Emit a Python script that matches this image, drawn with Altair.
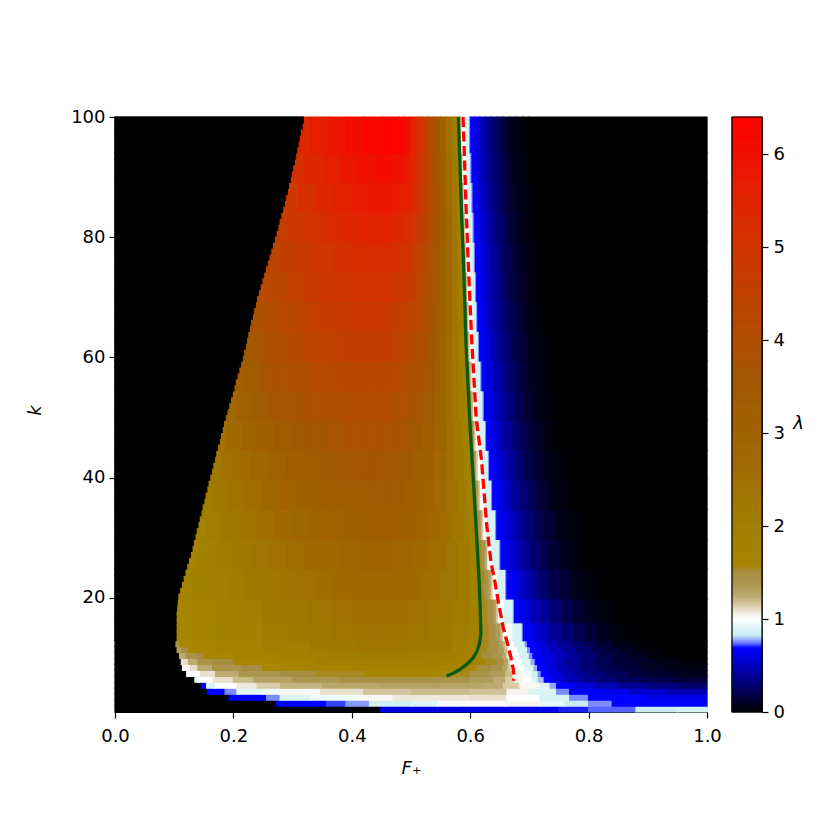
import altair as alt
import pandas as pd

# ---------------- data ----------------
F_TICKS = [0.0, 0.2, 0.4, 0.6, 0.8, 1.0]
K_TICKS = [20, 40, 60, 80, 100]
LAM_TICKS = [0, 1, 2, 3, 4, 5, 6]

# colour map (lambda -> colour)
CMAP_LAM = [0.0, 0.34, 0.68, 0.70, 0.72, 0.76, 0.80, 0.83, 0.92, 1.0, 1.06, 1.15, 1.25,
            1.40, 1.52, 1.58, 2.0, 2.5, 3.0, 3.5, 4.0, 4.5, 5.0, 5.5, 6.0, 6.4]
CMAP_COL = ["#000000", "#000080", "#0000ff", "#0000ff", "#3040ff", "#7a8cff", "#a8c0f8",
            "#c8ecf0", "#e0f8f8", "#ffffff", "#f4f0e8", "#d8cca8", "#bcaa70", "#aa944c",
            "#a48c40", "#a88600", "#a07e00", "#a07000", "#a06200", "#a05800", "#b04e00",
            "#c04200", "#d03400", "#e02400", "#f01000", "#ff0000"]

# row profiles: (first row k, last row k, [[F where segment starts, lambda], ...])
ROW1 = [[0, 0], [0.448, 0.6], [0.6, 0.62], [0.718, 0.68], [0.75, 0.71], [0.80, 0.74], [0.88, 0.84], [0.95, 0.88]]
ROW2 = [[0, 0], [0.273, 0.68], [0.357, 0.72], [0.39, 0.77], [0.43, 0.86], [0.5, 0.9], [0.545, 0.97], [0.58, 1.02],
        [0.66, 1.04], [0.72, 0.92], [0.76, 0.84], [0.8, 0.76], [0.84, 0.68]]
ROW3 = [[0, 0], [0.193, 0.68], [0.256, 0.76], [0.279, 0.9], [0.33, 0.95], [0.408, 1.03], [0.47, 1.08], [0.6, 1.1],
        [0.662, 1.0], [0.718, 0.88], [0.768, 0.76], [0.80, 0.68], [0.9, 0.62]]
ROW4 = [[0, 0], [0.156, 0.68], [0.186, 0.76], [0.206, 0.92], [0.25, 0.97], [0.28, 1.03], [0.347, 1.1], [0.42, 1.17],
        [0.5, 1.2], [0.6, 1.18], [0.662, 1.05], [0.7, 0.9], [0.746, 0.76], [0.768, 0.68], [0.82, 0.62], [0.87, 0.55],
        [0.93, 0.48]]
ROW5 = [[0, 0], [0.146, 0.68], [0.155, 0.9], [0.17, 1.0], [0.206, 1.08], [0.24, 1.15], [0.28, 1.22], [0.35, 1.27],
        [0.45, 1.3], [0.55, 1.28], [0.62, 1.25], [0.656, 1.15], [0.684, 1.03], [0.718, 0.9], [0.735, 0.78],
        [0.746, 0.68], [0.775, 0.58], [0.81, 0.48], [0.85, 0.4], [0.9, 0.33], [0.95, 0.27]]
ROW6 = [[0, 0], [0.135, 0.92], [0.14, 1.0], [0.166, 1.1], [0.2, 1.2], [0.234, 1.3], [0.3, 1.38], [0.38, 1.45],
        [0.46, 1.45], [0.54, 1.42], [0.6, 1.35], [0.64, 1.25], [0.66, 1.15], [0.675, 1.05], [0.69, 1.0],
        [0.705, 0.9], [0.715, 0.8], [0.725, 0.68], [0.742, 0.58], [0.762, 0.48], [0.787, 0.4], [0.815, 0.32],
        [0.85, 0.25], [0.89, 0.2], [0.94, 0.16]]
ROW7 = [[0, 0], [0.121, 0.9], [0.124, 1.0], [0.144, 1.1], [0.17, 1.25], [0.21, 1.4], [0.28, 1.5], [0.34, 1.55],
        [0.42, 1.6], [0.5, 1.6], [0.56, 1.55], [0.6, 1.45], [0.635, 1.35], [0.66, 1.2], [0.672, 1.05], [0.69, 0.95],
        [0.705, 0.85], [0.715, 0.76], [0.72, 0.68], [0.736, 0.58], [0.755, 0.48], [0.777, 0.4], [0.8, 0.32],
        [0.83, 0.24], [0.865, 0.17], [0.905, 0.12], [0.95, 0.08]]
ROW8 = [[0, 0], [0.114, 1.0], [0.127, 1.1], [0.14, 1.25], [0.165, 1.4], [0.215, 1.5], [0.25, 1.6], [0.32, 1.7],
        [0.4, 1.75], [0.48, 1.75], [0.54, 1.7], [0.58, 1.6], [0.61, 1.5], [0.635, 1.4], [0.655, 1.3], [0.664, 1.15],
        [0.67, 1.0], [0.692, 0.9], [0.708, 0.78], [0.714, 0.68], [0.73, 0.58], [0.748, 0.48], [0.768, 0.39],
        [0.79, 0.3], [0.818, 0.22], [0.85, 0.15], [0.89, 0.1], [0.935, 0.06], [0.975, 0.04]]
ROW9 = [[0, 0], [0.112, 1.1], [0.124, 1.25], [0.14, 1.4], [0.165, 1.5], [0.2, 1.6], [0.26, 1.7], [0.34, 1.85],
        [0.42, 1.9], [0.5, 1.85], [0.56, 1.75], [0.6, 1.65], [0.625, 1.55], [0.645, 1.45], [0.658, 1.3],
        [0.665, 1.12], [0.669, 1.0], [0.688, 0.9], [0.703, 0.78], [0.71, 0.68], [0.725, 0.6], [0.742, 0.5],
        [0.76, 0.4], [0.785, 0.3], [0.81, 0.22], [0.84, 0.15], [0.875, 0.1], [0.915, 0.06], [0.955, 0.03]]
ROW10 = [[0, 0], [0.109, 1.25], [0.12, 1.4], [0.135, 1.5], [0.15, 1.6], [0.2, 1.7], [0.28, 1.85], [0.36, 2.0],
         [0.44, 2.05], [0.52, 1.95], [0.58, 1.8], [0.605, 1.6], [0.62, 1.5], [0.64, 1.4], [0.655, 1.28],
         [0.662, 1.12], [0.666, 1.0], [0.684, 0.88], [0.7, 0.76], [0.706, 0.68], [0.723, 0.6], [0.743, 0.5],
         [0.765, 0.4], [0.789, 0.3], [0.816, 0.21], [0.843, 0.14], [0.869, 0.08], [0.896, 0.04], [0.923, 0.015],
         [0.95, 0]]
ROW11 = [[0, 0], [0.105, 1.35], [0.113, 1.5], [0.125, 1.6], [0.17, 1.72], [0.25, 1.9], [0.33, 2.1], [0.41, 2.2],
         [0.49, 2.15], [0.57, 1.9], [0.60, 1.75], [0.614, 1.55], [0.63, 1.45], [0.648, 1.35], [0.658, 1.2],
         [0.664, 1.0], [0.68, 0.88], [0.697, 0.76], [0.702, 0.68], [0.718, 0.6], [0.736, 0.5], [0.757, 0.4],
         [0.78, 0.3], [0.805, 0.21], [0.83, 0.14], [0.855, 0.08], [0.88, 0.04], [0.905, 0.015], [0.93, 0]]
ROW12 = [[0, 0], [0.103, 1.45], [0.11, 1.6], [0.17, 1.75], [0.25, 1.95], [0.33, 2.15], [0.41, 2.3], [0.49, 2.25],
         [0.57, 1.95], [0.60, 1.8], [0.618, 1.55], [0.632, 1.45], [0.648, 1.35], [0.656, 1.2], [0.661, 1.0],
         [0.675, 0.88], [0.693, 0.76], [0.697, 0.68], [0.712, 0.6], [0.729, 0.5], [0.748, 0.4], [0.769, 0.3],
         [0.793, 0.21], [0.816, 0.14], [0.84, 0.08], [0.863, 0.04], [0.887, 0.015], [0.91, 0]]
BAND13 = [[0, 0], [0.103, 1.6], [0.13, 1.7], [0.17, 1.8], [0.21, 1.9], [0.25, 2.05], [0.29, 2.15], [0.33, 2.25],
          [0.37, 2.35], [0.41, 2.4], [0.45, 2.4], [0.49, 2.35], [0.53, 2.2], [0.57, 2.0], [0.60, 1.85], [0.62, 1.55],
          [0.632, 1.45], [0.644, 1.35], [0.652, 1.2], [0.656, 1.05], [0.659, 1.0], [0.672, 0.88], [0.688, 0.76],
          [0.69, 0.68], [0.703, 0.6], [0.719, 0.5], [0.736, 0.4], [0.755, 0.3], [0.776, 0.21], [0.796, 0.14],
          [0.817, 0.08], [0.838, 0.04], [0.859, 0.015], [0.88, 0]]
BAND16 = [[0, 0], [0.103, 1.65], [0.13, 1.75], [0.17, 1.85], [0.21, 2.0], [0.25, 2.15], [0.29, 2.25], [0.33, 2.35],
          [0.37, 2.45], [0.41, 2.55], [0.45, 2.55], [0.49, 2.5], [0.53, 2.35], [0.57, 2.1], [0.60, 1.9], [0.619, 1.55],
          [0.63, 1.45], [0.64, 1.32], [0.645, 1.15], [0.648, 1.0], [0.658, 0.88], [0.673, 0.76], [0.675, 0.68],
          [0.687, 0.6], [0.701, 0.5], [0.717, 0.4], [0.735, 0.3], [0.754, 0.21], [0.773, 0.14], [0.792, 0.08],
          [0.812, 0.04], [0.831, 0.015], [0.85, 0]]
BAND20 = [[0, 0], [0.106, 1.7], [0.13, 1.8], [0.16, 1.95], [0.19, 2.05], [0.22, 2.2], [0.25, 2.3], [0.28, 2.4],
          [0.31, 2.5], [0.34, 2.6], [0.37, 2.7], [0.40, 2.75], [0.43, 2.8], [0.46, 2.8], [0.49, 2.7], [0.52, 2.55],
          [0.55, 2.35], [0.58, 2.1], [0.60, 1.9], [0.617, 1.55], [0.625, 1.42], [0.632, 1.3], [0.636, 1.15],
          [0.639, 1.0], [0.647, 0.88], [0.66, 0.76], [0.662, 0.68], [0.673, 0.6], [0.686, 0.5], [0.70, 0.4],
          [0.716, 0.3], [0.733, 0.21], [0.75, 0.14], [0.768, 0.08], [0.785, 0.04], [0.803, 0.015], [0.82, 0]]
BAND25 = [[0, 0], [0.121, 1.75], [0.14, 1.9], [0.17, 2.05], [0.20, 2.2], [0.23, 2.35], [0.26, 2.5], [0.29, 2.6],
          [0.32, 2.7], [0.35, 2.8], [0.38, 2.9], [0.41, 2.95], [0.44, 2.95], [0.47, 2.9], [0.50, 2.8], [0.53, 2.6],
          [0.56, 2.35], [0.58, 2.1], [0.60, 1.85], [0.614, 1.55], [0.62, 1.4], [0.626, 1.25], [0.629, 1.1],
          [0.631, 1.0], [0.638, 0.88], [0.65, 0.76], [0.652, 0.68], [0.662, 0.6], [0.674, 0.5], [0.688, 0.4],
          [0.702, 0.3], [0.719, 0.21], [0.735, 0.14], [0.751, 0.08], [0.767, 0.04], [0.784, 0.015], [0.80, 0]]
BAND30 = [[0, 0], [0.135, 1.85], [0.155, 2.0], [0.18, 2.2], [0.21, 2.4], [0.24, 2.55], [0.27, 2.7], [0.30, 2.85],
          [0.33, 2.95], [0.36, 3.05], [0.39, 3.15], [0.42, 3.2], [0.45, 3.2], [0.48, 3.1], [0.51, 2.95], [0.53, 2.75],
          [0.55, 2.55], [0.57, 2.3], [0.59, 2.0], [0.60, 1.85], [0.611, 1.5], [0.616, 1.35], [0.62, 1.15],
          [0.623, 1.0], [0.63, 0.88], [0.643, 0.76], [0.645, 0.68], [0.655, 0.6], [0.667, 0.5], [0.68, 0.4],
          [0.694, 0.3], [0.71, 0.21], [0.726, 0.14], [0.742, 0.08], [0.758, 0.04], [0.774, 0.015], [0.79, 0]]
BAND35 = [[0, 0], [0.147, 2.0], [0.165, 2.2], [0.19, 2.4], [0.22, 2.6], [0.25, 2.8], [0.28, 2.95], [0.31, 3.1],
          [0.34, 3.2], [0.37, 3.3], [0.40, 3.4], [0.43, 3.4], [0.46, 3.35], [0.49, 3.2], [0.52, 2.95], [0.54, 2.7],
          [0.56, 2.4], [0.58, 2.1], [0.595, 1.9], [0.608, 1.5], [0.612, 1.35], [0.615, 1.15], [0.618, 1.0],
          [0.625, 0.88], [0.636, 0.76], [0.638, 0.68], [0.648, 0.6], [0.659, 0.5], [0.671, 0.4], [0.685, 0.3],
          [0.70, 0.21], [0.715, 0.14], [0.73, 0.08], [0.745, 0.04], [0.76, 0.015], [0.775, 0]]
BAND40 = [[0, 0], [0.16, 2.2], [0.18, 2.45], [0.20, 2.65], [0.23, 2.85], [0.26, 3.05], [0.29, 3.2], [0.32, 3.35],
          [0.35, 3.45], [0.38, 3.55], [0.41, 3.6], [0.44, 3.6], [0.47, 3.5], [0.50, 3.3], [0.52, 3.1], [0.54, 2.8],
          [0.56, 2.45], [0.575, 2.15], [0.59, 1.9], [0.605, 1.5], [0.609, 1.3], [0.611, 1.15], [0.614, 1.0],
          [0.621, 0.88], [0.631, 0.76], [0.633, 0.68], [0.642, 0.6], [0.653, 0.5], [0.665, 0.4], [0.678, 0.3],
          [0.692, 0.21], [0.707, 0.14], [0.721, 0.08], [0.736, 0.04], [0.75, 0.015], [0.765, 0]]
BAND45 = [[0, 0], [0.173, 2.45], [0.19, 2.7], [0.215, 2.95], [0.24, 3.15], [0.27, 3.35], [0.30, 3.5], [0.33, 3.6],
          [0.36, 3.7], [0.39, 3.8], [0.42, 3.85], [0.45, 3.8], [0.48, 3.65], [0.50, 3.5], [0.52, 3.25], [0.54, 2.95],
          [0.56, 2.5], [0.575, 2.15], [0.588, 1.9], [0.602, 1.5], [0.606, 1.3], [0.608, 1.15], [0.61, 1.0],
          [0.617, 0.88], [0.626, 0.76], [0.628, 0.68], [0.637, 0.6], [0.647, 0.5], [0.658, 0.4], [0.671, 0.3],
          [0.685, 0.21], [0.699, 0.14], [0.713, 0.08], [0.727, 0.04], [0.741, 0.015], [0.755, 0]]
BAND50 = [[0, 0], [0.186, 2.75], [0.205, 3.05], [0.23, 3.3], [0.26, 3.55], [0.29, 3.7], [0.32, 3.85], [0.35, 3.95],
          [0.38, 4.05], [0.41, 4.1], [0.44, 4.05], [0.47, 3.9], [0.50, 3.65], [0.52, 3.4], [0.54, 3.05], [0.56, 2.55],
          [0.57, 2.25], [0.58, 2.0], [0.59, 1.85], [0.6, 1.5], [0.603, 1.2], [0.606, 1.0], [0.613, 0.88],
          [0.622, 0.76], [0.624, 0.68], [0.632, 0.6], [0.642, 0.5], [0.653, 0.4], [0.665, 0.3], [0.678, 0.21],
          [0.692, 0.14], [0.705, 0.08], [0.718, 0.04], [0.732, 0.015], [0.745, 0]]
BAND55 = [[0, 0], [0.201, 3.1], [0.22, 3.4], [0.245, 3.65], [0.27, 3.85], [0.30, 4.0], [0.33, 4.15], [0.36, 4.25],
          [0.39, 4.35], [0.42, 4.35], [0.45, 4.3], [0.48, 4.1], [0.50, 3.9], [0.52, 3.6], [0.54, 3.2], [0.55, 2.95],
          [0.56, 2.6], [0.57, 2.3], [0.58, 2.0], [0.588, 1.85], [0.597, 1.5], [0.6, 1.2], [0.603, 1.0], [0.61, 0.88],
          [0.618, 0.76], [0.62, 0.68], [0.628, 0.6], [0.638, 0.5], [0.649, 0.4], [0.661, 0.3], [0.674, 0.21],
          [0.687, 0.14], [0.70, 0.08], [0.714, 0.04], [0.727, 0.015], [0.74, 0]]
BAND60 = [[0, 0], [0.215, 3.45], [0.235, 3.75], [0.26, 4.0], [0.29, 4.2], [0.32, 4.4], [0.35, 4.5], [0.38, 4.6],
          [0.41, 4.6], [0.44, 4.6], [0.47, 4.45], [0.49, 4.25], [0.51, 3.95], [0.53, 3.55], [0.54, 3.3], [0.55, 3.0],
          [0.56, 2.65], [0.57, 2.3], [0.58, 1.95], [0.588, 1.85], [0.595, 1.5], [0.597, 1.2], [0.6, 1.0],
          [0.607, 0.88], [0.614, 0.76], [0.616, 0.68], [0.624, 0.6], [0.634, 0.5], [0.645, 0.4], [0.656, 0.3],
          [0.67, 0.21], [0.683, 0.14], [0.696, 0.08], [0.709, 0.04], [0.722, 0.015], [0.735, 0]]
BAND65 = [[0, 0], [0.227, 3.8], [0.25, 4.05], [0.28, 4.3], [0.31, 4.5], [0.34, 4.65], [0.37, 4.75], [0.40, 4.8],
          [0.43, 4.8], [0.46, 4.7], [0.48, 4.55], [0.50, 4.3], [0.52, 3.95], [0.53, 3.7], [0.54, 3.4], [0.55, 3.05],
          [0.56, 2.7], [0.57, 2.3], [0.58, 1.95], [0.587, 1.85], [0.593, 1.5], [0.595, 1.2], [0.598, 1.0],
          [0.605, 0.88], [0.611, 0.76], [0.613, 0.68], [0.621, 0.6], [0.631, 0.5], [0.641, 0.4], [0.653, 0.3],
          [0.666, 0.21], [0.679, 0.14], [0.691, 0.08], [0.704, 0.04], [0.717, 0.015], [0.73, 0]]
BAND70 = [[0, 0], [0.239, 4.15], [0.26, 4.35], [0.29, 4.55], [0.32, 4.75], [0.35, 4.9], [0.38, 5.0], [0.41, 5.05],
          [0.44, 5.05], [0.47, 4.9], [0.49, 4.7], [0.51, 4.35], [0.52, 4.1], [0.53, 3.8], [0.54, 3.45], [0.55, 3.1],
          [0.56, 2.7], [0.57, 2.3], [0.58, 1.9], [0.591, 1.5], [0.593, 1.2], [0.596, 1.0], [0.603, 0.88],
          [0.609, 0.76], [0.611, 0.68], [0.619, 0.6], [0.628, 0.5], [0.638, 0.4], [0.65, 0.3], [0.662, 0.21],
          [0.675, 0.14], [0.687, 0.08], [0.70, 0.04], [0.712, 0.015], [0.725, 0]]
BAND75 = [[0, 0], [0.254, 4.4], [0.28, 4.6], [0.31, 4.8], [0.34, 5.0], [0.37, 5.15], [0.40, 5.25], [0.43, 5.3],
          [0.46, 5.25], [0.48, 5.05], [0.50, 4.75], [0.51, 4.5], [0.52, 4.2], [0.53, 3.85], [0.54, 3.5], [0.55, 3.1],
          [0.56, 2.7], [0.57, 2.3], [0.58, 1.9], [0.589, 1.5], [0.591, 1.2], [0.594, 1.0], [0.601, 0.88],
          [0.607, 0.76], [0.609, 0.68], [0.617, 0.6], [0.626, 0.5], [0.636, 0.4], [0.647, 0.3], [0.659, 0.21],
          [0.671, 0.14], [0.683, 0.08], [0.696, 0.04], [0.708, 0.015], [0.72, 0]]
BAND80 = [[0, 0], [0.269, 4.6], [0.29, 4.8], [0.32, 5.05], [0.35, 5.25], [0.38, 5.4], [0.41, 5.5], [0.44, 5.55],
          [0.47, 5.45], [0.49, 5.2], [0.50, 5.0], [0.51, 4.75], [0.52, 4.45], [0.53, 4.05], [0.54, 3.65], [0.55, 3.2],
          [0.56, 2.75], [0.57, 2.3], [0.58, 1.85], [0.587, 1.5], [0.589, 1.2], [0.592, 1.0], [0.599, 0.88],
          [0.605, 0.76], [0.607, 0.68], [0.615, 0.6], [0.623, 0.5], [0.633, 0.4], [0.644, 0.3], [0.656, 0.21],
          [0.667, 0.14], [0.679, 0.08], [0.691, 0.04], [0.703, 0.015], [0.715, 0]]
BAND85 = [[0, 0], [0.283, 4.9], [0.31, 5.15], [0.34, 5.4], [0.37, 5.6], [0.40, 5.75], [0.43, 5.85], [0.46, 5.8],
          [0.48, 5.6], [0.50, 5.3], [0.51, 5.0], [0.52, 4.6], [0.53, 4.15], [0.54, 3.7], [0.55, 3.2], [0.56, 2.7],
          [0.57, 2.25], [0.579, 1.85], [0.586, 1.5], [0.588, 1.2], [0.59, 1.0], [0.597, 0.88], [0.603, 0.76],
          [0.605, 0.68], [0.612, 0.6], [0.621, 0.5], [0.63, 0.4], [0.641, 0.3], [0.652, 0.21], [0.664, 0.14],
          [0.675, 0.08], [0.687, 0.04], [0.698, 0.015], [0.71, 0]]
BAND90 = [[0, 0], [0.296, 5.15], [0.32, 5.4], [0.35, 5.65], [0.38, 5.85], [0.41, 6.0], [0.44, 6.1], [0.47, 6.0],
          [0.49, 5.75], [0.50, 5.45], [0.51, 5.1], [0.52, 4.7], [0.53, 4.2], [0.54, 3.7], [0.55, 3.15], [0.56, 2.6],
          [0.57, 2.2], [0.578, 1.85], [0.584, 1.5], [0.586, 1.2], [0.588, 1.0], [0.595, 0.88], [0.601, 0.76],
          [0.603, 0.68], [0.61, 0.6], [0.618, 0.5], [0.627, 0.4], [0.638, 0.3], [0.649, 0.21], [0.66, 0.14],
          [0.671, 0.08], [0.683, 0.04], [0.694, 0.015], [0.705, 0]]
BAND95 = [[0, 0], [0.307, 5.4], [0.33, 5.65], [0.36, 5.9], [0.39, 6.1], [0.42, 6.3], [0.45, 6.4], [0.48, 6.25],
          [0.49, 6.0], [0.50, 5.6], [0.51, 5.2], [0.52, 4.8], [0.53, 4.2], [0.54, 3.6], [0.55, 3.0], [0.56, 2.5],
          [0.57, 2.1], [0.576, 1.85], [0.582, 1.5], [0.584, 1.2], [0.586, 1.0], [0.593, 0.88], [0.599, 0.76],
          [0.601, 0.68], [0.608, 0.6], [0.616, 0.5], [0.625, 0.4], [0.635, 0.3], [0.646, 0.21], [0.656, 0.14],
          [0.667, 0.08], [0.678, 0.04], [0.689, 0.015], [0.70, 0]]

PROFILES = [(1, 1, ROW1), (2, 2, ROW2), (3, 3, ROW3), (4, 4, ROW4), (5, 5, ROW5), (6, 6, ROW6),
            (7, 7, ROW7), (8, 8, ROW8), (9, 9, ROW9), (10, 10, ROW10), (11, 11, ROW11), (12, 12, ROW12),
            (13, 15, BAND13), (16, 19, BAND16), (20, 24, BAND20), (25, 29, BAND25), (30, 34, BAND30),
            (35, 39, BAND35), (40, 44, BAND40), (45, 49, BAND45), (50, 54, BAND50), (55, 59, BAND55),
            (60, 64, BAND60), (65, 69, BAND65), (70, 74, BAND70), (75, 79, BAND75), (80, 84, BAND80),
            (85, 89, BAND85), (90, 94, BAND90), (95, 100, BAND95)]

# left (black) edge of the coloured region, one value per row k = 13..100
EDGE_ROWS = list(range(13, 101))
EDGE_F = [0.103, 0.103, 0.103, 0.103, 0.103, 0.104, 0.105, 0.106,
          0.109, 0.112, 0.115, 0.118, 0.121, 0.124, 0.127, 0.130, 0.132, 0.135,
          0.137, 0.140, 0.142, 0.145, 0.147, 0.150, 0.152, 0.155, 0.157, 0.160,
          0.163, 0.165, 0.168, 0.170, 0.173, 0.176, 0.178, 0.181, 0.183, 0.186,
          0.189, 0.192, 0.195, 0.198, 0.201, 0.203, 0.206, 0.209, 0.212, 0.215,
          0.217, 0.220, 0.222, 0.224, 0.227, 0.229, 0.232, 0.234, 0.237, 0.239,
          0.242, 0.245, 0.248, 0.251, 0.254, 0.257, 0.260, 0.263, 0.266, 0.269,
          0.272, 0.275, 0.277, 0.280, 0.283, 0.286, 0.288, 0.291, 0.293, 0.296,
          0.298, 0.300, 0.303, 0.305, 0.307, 0.309, 0.311, 0.313, 0.316, 0.318]

# overlaid curves
GREEN_F = [0.580, 0.585, 0.589, 0.593, 0.599, 0.605, 0.611, 0.615, 0.617, 0.618, 0.616, 0.612, 0.605,
           0.595, 0.583, 0.572, 0.560]
GREEN_K = [100, 85, 75, 62, 50, 40, 30, 23, 18, 14, 12.5, 11.2, 10.0, 9.0, 8.1, 7.5, 7.0]
RED_F = [0.588, 0.593, 0.597, 0.6025, 0.61, 0.619, 0.628, 0.635, 0.642, 0.648, 0.656, 0.664, 0.669,
         0.673, 0.674, 0.673]
RED_K = [100, 85, 75, 63, 50, 43, 32, 26, 22.5, 19, 15, 12, 10, 8, 7, 6.2]

# ---------------- build tables ----------------
def row_lo(r):
    return 1 + 0.99 * (r - 1)

cells = []
for r0, r1, prof in PROFILES:
    for i, (x, lam) in enumerate(prof):
        x2 = prof[i + 1][0] if i + 1 < len(prof) else 1.0
        cells.append({"x": x, "x2": x2, "y": row_lo(r0), "y2": row_lo(r1 + 1), "lam": lam})
for r, xl in zip(EDGE_ROWS, EDGE_F):
    cells.append({"x": 0.0, "x2": xl, "y": row_lo(r), "y2": row_lo(r + 1), "lam": 0.0})
cells = pd.DataFrame(cells)

green = pd.DataFrame({"f": GREEN_F, "k": GREEN_K, "i": range(len(GREEN_F))})
red = pd.DataFrame({"f": RED_F, "k": RED_K, "i": range(len(RED_F))})

# colour-bar bins (legend rendering)
CB_STEP = 0.02
cbar = pd.DataFrame({"lo": [i * CB_STEP for i in range(320)],
                     "hi": [(i + 1) * CB_STEP for i in range(320)],
                     "lam": [(i + 0.5) * CB_STEP for i in range(320)]})
frame = pd.DataFrame({"a": [0]})

# ---------------- chart ----------------
W, H = 592, 595
FONT = "DejaVu Sans"
FS = 18

cscale = alt.Scale(domain=CMAP_LAM, range=CMAP_COL, interpolate="rgb", clamp=True)
xs = alt.Scale(domain=[0, 1], nice=False, zero=False)
ys = alt.Scale(domain=[1, 100], nice=False, zero=False)

ax_common = dict(labelFont=FONT, labelFontSize=FS, labelColor="black", tickColor="black",
                 domainColor="black", tickSize=6, tickWidth=1.2, grid=False, labelFlush=False,
                 titleFont=FONT, titleFontSize=FS, titleColor="black",
                 titleFontStyle="italic", titleFontWeight="normal")

heat = alt.Chart(cells).mark_rect(strokeWidth=1.2).encode(
    x=alt.X("x:Q", scale=xs,
            axis=alt.Axis(values=F_TICKS, format=".1f", title="F₊", titleX=W / 2, titleY=56,
                          titleBaseline="middle", labelPadding=9, **ax_common)),
    x2="x2:Q",
    y=alt.Y("y:Q", scale=ys,
            axis=alt.Axis(values=K_TICKS, title="k", titleX=-80, titleY=293, titleAngle=270,
                          titleBaseline="middle", titleAlign="center", labelPadding=4, **ax_common)),
    y2="y2:Q",
    color=alt.Color("lam:Q", scale=cscale, legend=None),
    stroke=alt.Stroke("lam:Q", scale=cscale, legend=None),
)

gline = alt.Chart(green).mark_line(color="#0b5a12", strokeWidth=3.3).encode(
    x=alt.X("f:Q", scale=xs), y=alt.Y("k:Q", scale=ys), order="i:O")
rline = alt.Chart(red).mark_line(color="#ff0000", strokeWidth=3.3, strokeDash=[10, 4.5]).encode(
    x=alt.X("f:Q", scale=xs), y=alt.Y("k:Q", scale=ys), order="i:O")

main = alt.layer(heat, gline, rline)

cb = alt.Chart(cbar).mark_rect(strokeWidth=1).encode(
    x=alt.value(617), x2=alt.value(647),
    y=alt.Y("lo:Q", scale=alt.Scale(domain=[0, 6.4], nice=False, zero=False),
            axis=alt.Axis(orient="right", offset=55, values=LAM_TICKS, title="λ",
                          titleAngle=0, titleX=36, titleY=306, titleAlign="center",
                          titleBaseline="middle", labelPadding=5, **ax_common)),
    y2="hi:Q",
    color=alt.Color("lam:Q", scale=cscale, legend=None),
    stroke=alt.Stroke("lam:Q", scale=cscale, legend=None),
)
cbframe = alt.Chart(frame).mark_rect(filled=False, stroke="black", strokeWidth=1.2).encode(
    x=alt.value(617), x2=alt.value(647), y=alt.value(0), y2=alt.value(H))

chart = alt.layer(main, cb, cbframe).resolve_scale(y="independent").properties(
    width=W, height=H,
    autosize=alt.AutoSizeParams(type="none"),
    padding={"left": 107, "top": 109, "right": 100, "bottom": 100},
).configure_view(stroke="black", strokeWidth=1.2, fill="black").configure(font=FONT)

chart.save("out.html", embed_options={"renderer": "svg", "actions": False})
